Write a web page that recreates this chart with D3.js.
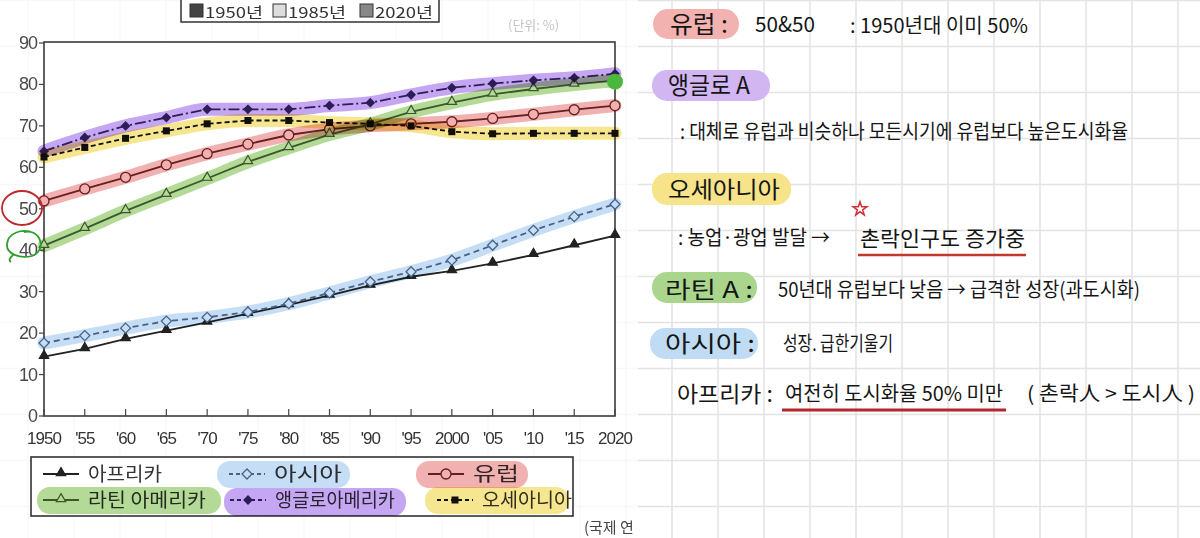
<!DOCTYPE html>
<html>
<head>
<meta charset="utf-8">
<script src="https://cdn.jsdelivr.net/npm/d3@7"></script>
<style>
  body { margin: 0; background: #fff; }
  svg { display: block; }
</style>
</head>
<body>
<svg id="chart"></svg>
<script>
// data (urban population share, %)
const years = [1950,1955,1960,1965,1970,1975,1980,1985,1990,1995,2000,2005,2010,2015,2020];
const yearLabels = ["1950","'55","'60","'65","'70","'75","'80","'85","'90","'95","2000","'05","'10","'15","2020"];
const yTicks = [0,10,20,30,40,50,60,70,80,90];
const africa  = [14.3,16.2,18.6,20.6,22.6,24.7,26.8,29.1,31.5,33.6,35.0,36.8,38.9,41.2,43.5];
const asia    = [17.6,19.4,21.2,22.9,23.8,25.1,27.1,29.7,32.4,34.8,37.6,41.2,44.8,48.1,51.1];
const europe  = [51.9,54.8,57.6,60.6,63.3,65.6,67.8,69.2,70.0,70.5,71.0,71.8,72.8,73.9,74.9];
const latin   = [41.1,45.2,49.5,53.4,57.3,61.3,64.7,67.9,70.4,73.4,75.6,77.6,78.9,80.0,80.9];
const anglo   = [63.9,67.2,70.0,72.0,74.0,74.0,74.0,74.9,75.6,77.5,79.2,80.2,81.0,81.6,82.6];
const oceania = [62.5,64.8,67.0,68.8,70.5,71.3,71.3,70.8,70.5,70.0,68.6,68.1,68.2,68.2,68.2];
const topLegend = ["1950년","1985년","2020년"];
const regionNames = ["아프리카","아시아","유럽","라틴 아메리카","앵글로아메리카","오세아니아"];

var W = 1200, H = 538;
var svg = d3.select("#chart").attr("width", W).attr("height", H);
var kr = "'Noto Sans CJK KR','Noto Sans',sans-serif";
var lat = "'Liberation Sans','DejaVu Sans',sans-serif";

// graph paper grid
var grid = svg.append("g").attr("stroke", "#e3e3e3").attr("stroke-width", 1.5);
for (var gx = 672 - 46*15; gx < W; gx += 46) {
  grid.append("line").attr("x1", gx).attr("x2", gx).attr("y1", 0).attr("y2", H);
}
for (var gy = 0; gy < H; gy += 46) {
  grid.append("line").attr("x1", 0).attr("x2", W).attr("y1", gy + 0.5).attr("y2", gy + 0.5);
}
// the chart photo sits on the paper, grid faintly through it
svg.append("rect").attr("x", 0).attr("y", 0).attr("width", 638).attr("height", H)
  .attr("fill", "#fff").attr("opacity", 0.75);

svg.append("defs").append("clipPath").attr("id", "photo")
  .append("rect").attr("x", 0).attr("y", 0).attr("width", 634).attr("height", H);
var left = svg.append("g").attr("clip-path", "url(#photo)");

var x = d3.scaleLinear().domain([1950, 2020]).range([44, 615]);
var y = d3.scaleLinear().domain([0, 90]).range([416, 43]);

// top legend (box cut by the photo edge)
var tl = left.append("g");
tl.append("rect").attr("x", 181).attr("y", -10).attr("width", 258).attr("height", 32)
  .attr("fill", "#fff").attr("stroke", "#333").attr("stroke-width", 1.5);
var swatch = ["#444", "#ddd", "#888"];
var tlx = [190, 273, 360];
topLegend.forEach(function (t, i) {
  tl.append("rect").attr("x", tlx[i]).attr("y", 4).attr("width", 13).attr("height", 13)
    .attr("fill", swatch[i]).attr("stroke", "#333").attr("stroke-width", 1);
  tl.append("text").attr("x", tlx[i] + 15).attr("y", 18).text(t)
    .attr("font-family", kr).attr("font-size", 15).attr("fill", "#333")
    .attr("textLength", 58).attr("lengthAdjust", "spacingAndGlyphs");
});
left.append("text").attr("x", 508).attr("y", 30).text("(단위: %)")
  .attr("font-family", kr).attr("font-size", 13).attr("fill", "#c4c4c4");

// plot frame
left.append("rect").attr("x", 44).attr("y", 42).attr("width", 571).attr("height", 374)
  .attr("fill", "#fff").attr("stroke", "#3a3a3a").attr("stroke-width", 1.6);

// axes
var yAxis = left.append("g");
yTicks.forEach(function (v) {
  yAxis.append("line").attr("x1", 39).attr("x2", 44).attr("y1", y(v)).attr("y2", y(v))
    .attr("stroke", "#444").attr("stroke-width", 1.2);
  yAxis.append("text").attr("x", 37).attr("y", y(v) + 6).text(v)
    .attr("text-anchor", "end").attr("font-family", lat).attr("font-size", 18)
    .attr("fill", "#4a4a4a").attr("letter-spacing", -1);
});
var xAxis = left.append("g");
years.forEach(function (yr, i) {
  xAxis.append("line").attr("x1", x(yr)).attr("x2", x(yr)).attr("y1", 416).attr("y2", 409)
    .attr("stroke", "#444").attr("stroke-width", 1.2);
  xAxis.append("text").attr("x", x(yr)).attr("y", 444).text(yearLabels[i])
    .attr("text-anchor", "middle").attr("font-family", lat).attr("font-size", 17)
    .attr("fill", "#333").attr("letter-spacing", -1);
});

var line = d3.line().x(function (d, i) { return x(years[i]); }).y(function (d) { return y(d); });
var smooth = d3.line().curve(d3.curveMonotoneX)
  .x(function (d, i) { return x(years[i]); }).y(function (d) { return y(d); });

var series = [
  { data: africa,  color: "#222",    dash: null,        marker: "triF",  hl: null },
  { data: asia,    color: "#5d708c", dash: "6,4",       marker: "diaO",  hl: "#bcd9f4" },
  { data: europe,  color: "#6e2a2a", dash: null,        marker: "cirO",  hl: "#efa3a3" },
  { data: latin,   color: "#56644a", dash: null,        marker: "triO",  hl: "#a7d486" },
  { data: anglo,   color: "#3a2c5c", dash: "11,3,2,3",  marker: "diaF",  hl: "#bb96f0" },
  { data: oceania, color: "#111",    dash: "5,3",       marker: "sqF",   hl: "#f6e27c" }
];

function drawMarker(g, type, cx, cy, color) {
  if (type === "triF" || type === "triO") {
    g.append("path").attr("d", d3.symbol(d3.symbolTriangle, 38)())
      .attr("transform", "translate(" + cx + "," + (cy - 1) + ")")
      .attr("fill", type === "triF" ? color : "#fff").attr("stroke", color).attr("stroke-width", 1.2);
  } else if (type === "diaO" || type === "diaF") {
    var s = type === "diaO" ? 5 : 4;
    g.append("path").attr("d", "M0," + (-s) + "L" + s + ",0L0," + s + "L" + (-s) + ",0Z")
      .attr("transform", "translate(" + cx + "," + cy + ")")
      .attr("fill", type === "diaF" ? color : "#fff").attr("stroke", color).attr("stroke-width", 1.3);
  } else if (type === "cirO") {
    g.append("circle").attr("cx", cx).attr("cy", cy).attr("r", 5)
      .attr("fill", "#fff").attr("stroke", color).attr("stroke-width", 1.3);
  } else if (type === "sqF") {
    g.append("rect").attr("x", cx - 3.5).attr("y", cy - 3.5).attr("width", 7).attr("height", 7)
      .attr("fill", color);
  }
}

var lines = left.append("g");
series.forEach(function (s) {
  lines.append("path").datum(s.data).attr("d", line).attr("fill", "none")
    .attr("stroke", s.color).attr("stroke-width", 1.8)
    .attr("stroke-dasharray", s.dash);
  s.data.forEach(function (v, i) { drawMarker(lines, s.marker, x(years[i]), y(v), s.color); });
});

// highlighter strokes on top (multiply so the print shows through)
var hl = left.append("g");
series.forEach(function (s) {
  if (!s.hl) return;
  hl.append("path").datum(s.data).attr("d", smooth).attr("fill", "none")
    .attr("stroke", s.hl).attr("stroke-width", 13).attr("stroke-linecap", "round")
    .attr("opacity", 0.85).style("mix-blend-mode", "multiply");
});
// green dot on latin america 2020
left.append("circle").attr("cx", x(2020)).attr("cy", y(latin[14]) + 1).attr("r", 8)
  .attr("fill", "#4cb83b");

// pen circles around 50 and 40
left.append("ellipse").attr("cx", 22).attr("cy", 208).attr("rx", 20).attr("ry", 17)
  .attr("fill", "none").attr("stroke", "#c0272d").attr("stroke-width", 1.8);
left.append("path")
  .attr("d", "M34,233 C22,228 8,233 7,244 C6,254 20,259 32,256 C40,253 43,245 39,238 C36,233 30,231 24,232 M14,254 C10,258 8,260 11,262")
  .attr("fill", "none").attr("stroke", "#2e9e2e").attr("stroke-width", 1.8);

// bottom legend
var lg = left.append("g");
var pills = [
  { x: 217, y: 461, w: 133, h: 27, c: "#bcd9f4" },
  { x: 416, y: 461, w: 112, h: 27, c: "#efa3a3" },
  { x: 37,  y: 487, w: 184, h: 27, c: "#a7d486" },
  { x: 224, y: 488, w: 182, h: 28, c: "#bb96f0" },
  { x: 425, y: 487, w: 144, h: 27, c: "#f6e27c" }
];
lg.append("rect").attr("x", 31).attr("y", 457).attr("width", 542).attr("height", 59)
  .attr("fill", "#fff").attr("stroke", "#333").attr("stroke-width", 1.6);
var lgPos = [[43, 474], [229, 474], [428, 474], [43, 500], [230, 500], [437, 500]];
var lgLen = [74, 68, 46, 118, 120, 90];
series.forEach(function (s, i) {
  var p = lgPos[i];
  lg.append("line").attr("x1", p[0]).attr("x2", p[0] + 36).attr("y1", p[1]).attr("y2", p[1])
    .attr("stroke", s.color).attr("stroke-width", 1.8).attr("stroke-dasharray", s.dash ? "4,3" : null);
  drawMarker(lg, s.marker, p[0] + 18, p[1], s.color);
  lg.append("text").attr("x", p[0] + 45).attr("y", p[1] + 7).text(regionNames[i])
    .attr("font-family", kr).attr("font-size", 19).attr("fill", "#333")
    .attr("textLength", lgLen[i]).attr("lengthAdjust", "spacingAndGlyphs");
});
pills.forEach(function (p) {
  lg.append("rect").attr("x", p.x).attr("y", p.y).attr("width", p.w).attr("height", p.h)
    .attr("rx", 13).attr("fill", p.c).attr("opacity", 0.85).style("mix-blend-mode", "multiply");
});
left.append("text").attr("x", 584).attr("y", 533).text("(국제 연합")
  .attr("font-family", kr).attr("font-size", 15).attr("fill", "#444");

// handwritten notes on the right
var notes = svg.append("g");
var notePills = [
  { x: 653, y: 9,   w: 86,  h: 30, c: "#f2b3b0" },
  { x: 652, y: 70,  w: 118, h: 31, c: "#d2b6f2" },
  { x: 652, y: 173, w: 139, h: 32, c: "#f6e38a" },
  { x: 652, y: 272, w: 105, h: 31, c: "#a9d58d" },
  { x: 650, y: 328, w: 108, h: 31, c: "#c0dcf4" }
];
notePills.forEach(function (p) {
  notes.append("rect").attr("x", p.x).attr("y", p.y).attr("width", p.w).attr("height", p.h)
    .attr("rx", 15).attr("fill", p.c);
});
var noteText = [
  { t: "유럽 :", x: 670, y: 33, s: 24, len: 58 },
  { t: "50&50", x: 755, y: 32, s: 21, len: 60 },
  { t: ": 1950년대 이미 50%", x: 850, y: 33, s: 20, len: 178 },
  { t: "앵글로 A", x: 668, y: 94, s: 24, len: 82 },
  { t: ": 대체로 유럽과 비슷하나 모든시기에 유럽보다 높은도시화율", x: 680, y: 139, s: 20, len: 448 },
  { t: "오세아니아", x: 668, y: 198, s: 23, len: 112 },
  { t: ": 농업·광업 발달 →", x: 678, y: 245, s: 20, len: 152 },
  { t: "촌락인구도 증가중", x: 860, y: 246, s: 21, len: 165 },
  { t: "라틴 A :", x: 665, y: 298, s: 23, len: 88 },
  { t: "50년대 유럽보다 낮음 → 급격한 성장(과도시화)", x: 778, y: 297, s: 20, len: 362 },
  { t: "아시아 :", x: 665, y: 352, s: 23, len: 90 },
  { t: "성장. 급한기울기", x: 783, y: 351, s: 20, len: 110 },
  { t: "아프리카 :", x: 677, y: 402, s: 22, len: 96 },
  { t: "여전히 도시화율 50% 미만", x: 785, y: 401, s: 20, len: 218 },
  { t: "( 촌락人 > 도시人 )", x: 1027, y: 401, s: 20, len: 168 }
];
noteText.forEach(function (n) {
  notes.append("text").attr("x", n.x).attr("y", n.y).text(n.t)
    .attr("font-family", kr).attr("font-weight", 400).attr("font-size", n.s).attr("fill", "#151515")
    .attr("textLength", n.len).attr("lengthAdjust", "spacingAndGlyphs");
});
notes.append("line").attr("x1", 858).attr("x2", 1026).attr("y1", 255).attr("y2", 255)
  .attr("stroke", "#c0392b").attr("stroke-width", 2.5);
notes.append("line").attr("x1", 782).attr("x2", 1006).attr("y1", 410).attr("y2", 410)
  .attr("stroke", "#b3262b").attr("stroke-width", 3);
notes.append("path").attr("d", d3.symbol(d3.symbolStar, 60)())
  .attr("transform", "translate(860,209)").attr("fill", "none")
  .attr("stroke", "#d0343a").attr("stroke-width", 1.5);
</script>
</body>
</html>
